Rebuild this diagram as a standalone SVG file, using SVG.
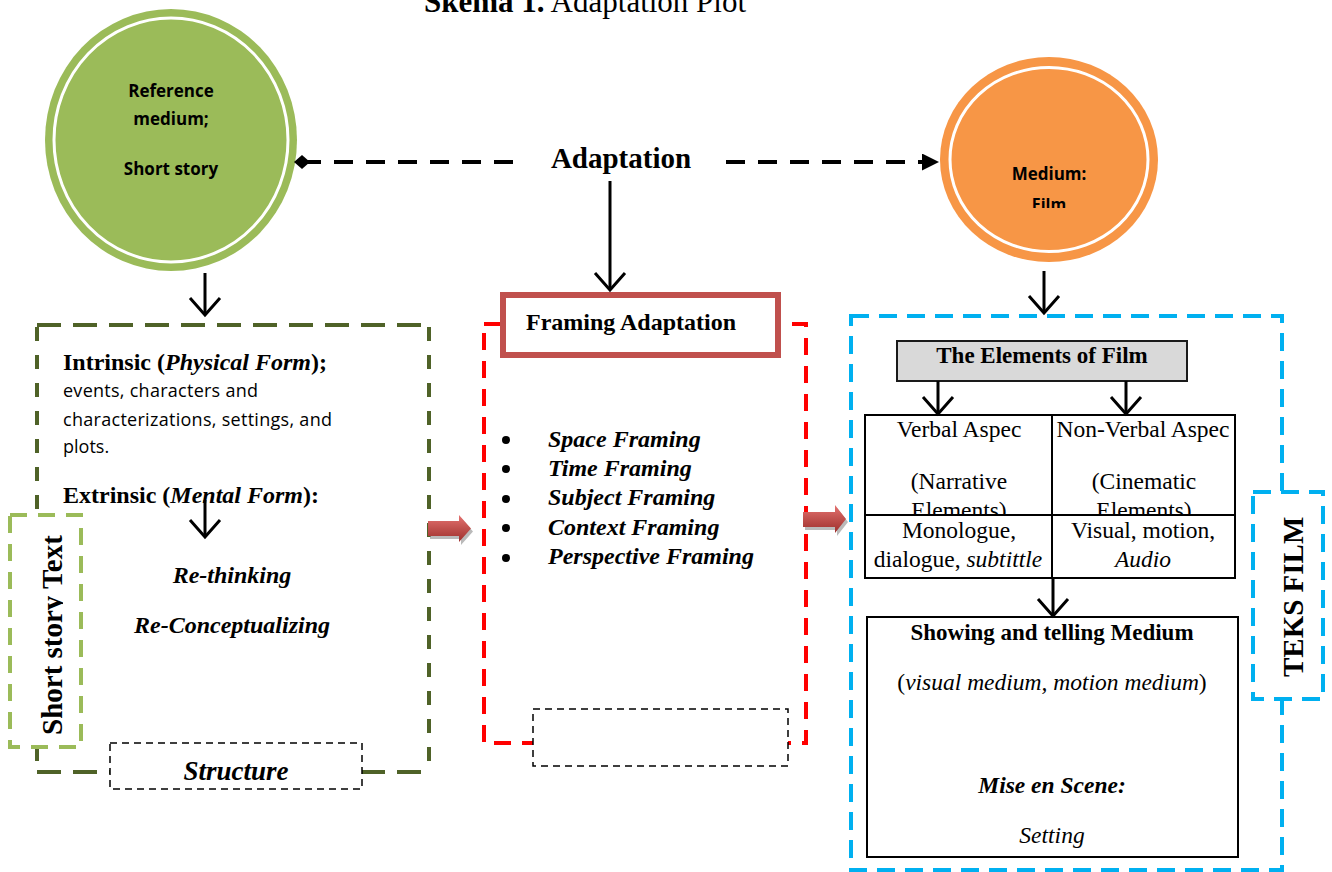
<svg xmlns="http://www.w3.org/2000/svg" width="1332" height="872" viewBox="0 0 1332 872">
<defs>
<style>
.tnr{font-family:"Liberation Serif","Times New Roman",serif;fill:#000}
.b{font-weight:bold}
.i{font-style:italic}
.n{font-style:normal}
.cal{font-family:"Open Sans","Noto Sans",sans-serif;fill:#000}
.mid{text-anchor:middle}
.ln{stroke:#000;stroke-width:3;fill:none}
.arr{marker-end:url(#vArrow)}
.olive{stroke:#4F6228;stroke-width:4;fill:none}
.bl{stroke:#00B0F0;stroke-width:4;stroke-dasharray:18 10}
.blk{stroke:#000;stroke-width:2;fill:#fff}
.thin{stroke:#000;stroke-width:1.5;stroke-dasharray:7 5;fill:#fff}
.redarrow{fill:url(#redGrad)}
.shadow{fill:#8c8c8c;opacity:0.6}
</style>
<marker id="vArrow" markerUnits="userSpaceOnUse" markerWidth="22" markerHeight="34" viewBox="0 0 22 34" refX="19" refY="17" orient="auto">
<path d="M2,2 L19,17 L2,32" fill="none" stroke="#000" stroke-width="3"/>
</marker>
<marker id="diamond" markerUnits="userSpaceOnUse" markerWidth="18" markerHeight="16" viewBox="0 0 18 16" refX="9" refY="8" orient="auto">
<path d="M1,8 L9,1 L17,8 L9,15 Z" fill="#000"/>
</marker>
<marker id="tri" markerUnits="userSpaceOnUse" markerWidth="17" markerHeight="17" viewBox="0 0 17 17" refX="0" refY="8.5" orient="auto">
<path d="M0,0 L17,8.5 L0,17 Z" fill="#000"/>
</marker>
<linearGradient id="redGrad" x1="0" y1="0" x2="0" y2="1">
<stop offset="0" stop-color="#E57371"/>
<stop offset="0.5" stop-color="#C0504D"/>
<stop offset="1" stop-color="#9E2F2C"/>
</linearGradient>
<clipPath id="clipFilm"><rect x="980" y="150" width="140" height="58"/></clipPath>
<clipPath id="clipSS"><rect x="0" y="500" width="63" height="260"/></clipPath>
<clipPath id="clipStruct"><rect x="110" y="743" width="252" height="38"/></clipPath>
<clipPath id="clipCells"><rect x="865" y="415" width="370" height="99"/></clipPath>
</defs>

<rect x="0" y="0" width="1332" height="872" fill="#fff"/>

<g id="title">
<text x="424" y="12" font-size="31" class="tnr"><tspan class="b">Skema 1.</tspan> Adaptation Plot</text>
</g>

<g id="node-reference-medium">
<ellipse cx="171" cy="140" rx="126" ry="131" fill="#9BBB59"/>
<ellipse cx="171" cy="140" rx="117" ry="122" fill="none" stroke="#fff" stroke-width="3"/>
<text x="171" y="97" font-size="17" class="cal b mid">Reference</text>
<text x="171" y="125" font-size="17" class="cal b mid">medium;</text>
<text x="171" y="175" font-size="17" class="cal b mid">Short story</text>
</g>

<g id="node-medium-film">
<ellipse cx="1049" cy="159.5" rx="109" ry="102.5" fill="#F79646"/>
<ellipse cx="1049" cy="159.5" rx="99" ry="92" fill="none" stroke="#fff" stroke-width="3"/>
<text x="1049" y="180" font-size="17" class="cal b mid">Medium:</text>
<g clip-path="url(#clipFilm)"><text x="1049" y="210" font-size="16" class="cal b mid">Film</text></g>
</g>

<g id="node-adaptation">
<text x="621" y="168" font-size="29" class="tnr b mid">Adaptation</text>
</g>

<g id="node-short-story-structure">
<line x1="37" y1="325" x2="429" y2="325" class="olive" stroke-dasharray="24 12"/>
<line x1="37" y1="772" x2="429" y2="772" class="olive" stroke-dasharray="24 12"/>
<line x1="37" y1="327" x2="37" y2="772" class="olive" stroke-dasharray="14 14"/>
<line x1="429" y1="327" x2="429" y2="772" class="olive" stroke-dasharray="14 14"/>
<text x="63" y="370" font-size="24" class="tnr b">Intrinsic (<tspan class="i">Physical Form</tspan>);</text>
<text x="63" y="397" font-size="18" class="cal" textLength="195" lengthAdjust="spacing">events, characters and</text>
<text x="63" y="426" font-size="18" class="cal" textLength="269" lengthAdjust="spacing">characterizations, settings, and</text>
<text x="63" y="453" font-size="18" class="cal">plots.</text>
<text x="63" y="503" font-size="24" class="tnr b">Extrinsic (<tspan class="i">Mental Form</tspan>):</text>
<text x="232" y="583" font-size="24" class="tnr b i mid">Re-thinking</text>
<text x="232" y="633" font-size="24" class="tnr b i mid">Re-Conceptualizing</text>
</g>

<g id="node-short-story-text">
<rect x="10" y="515" width="71" height="232" fill="#fff" stroke="#9BBB59" stroke-width="4" stroke-dasharray="17 11"/>
<g clip-path="url(#clipSS)"><text transform="translate(62,735) rotate(-90)" font-size="29" class="tnr b">Short story Text</text></g>
</g>

<g id="node-structure">
<rect x="110" y="743" width="252" height="46" class="thin" stroke-dasharray="6 4"/>
<g clip-path="url(#clipStruct)"><text x="236" y="780" font-size="27" class="tnr b i mid">Structure</text></g>
</g>

<g id="node-framing">
<rect x="484" y="324" width="322" height="419" fill="none" stroke="#FF0000" stroke-width="4" stroke-dasharray="17 11"/>
<rect x="503" y="295" width="275" height="60" fill="#fff" stroke="#C0504D" stroke-width="6"/>
<text x="526" y="330" font-size="24" class="tnr b">Framing Adaptation</text>
<g fill="#000">
<circle cx="506" cy="440" r="4"/>
<circle cx="506" cy="469" r="4"/>
<circle cx="506" cy="499" r="4"/>
<circle cx="506" cy="528" r="4"/>
<circle cx="506" cy="558" r="4"/>
</g>
<text x="548" y="447" font-size="24" class="tnr b i">Space Framing</text>
<text x="548" y="476" font-size="24" class="tnr b i">Time Framing</text>
<text x="548" y="505" font-size="24" class="tnr b i">Subject Framing</text>
<text x="548" y="535" font-size="24" class="tnr b i">Context Framing</text>
<text x="548" y="564" font-size="24" class="tnr b i">Perspective Framing</text>
</g>

<g id="node-empty-box">
<rect x="533" y="709" width="255" height="57" class="thin"/>
</g>

<g id="node-film-text">
<rect x="851" y="316" width="431" height="554" fill="none" class="bl"/>
</g>

<g id="node-teks-film">
<rect x="1253" y="492" width="70" height="207" fill="#fff" class="bl"/>
<text transform="translate(1303,677) rotate(-90)" font-size="29" class="tnr b">TEKS FILM</text>
</g>

<g id="node-elements">
<rect x="897" y="341" width="290" height="40" fill="#D9D9D9" stroke="#1a1a1a" stroke-width="2"/>
<text x="1042" y="363" font-size="23" class="tnr b mid">The Elements of Film</text>
</g>

<g id="node-aspects-table">
<rect x="865" y="415" width="370" height="163" class="blk"/>
<line x1="1052" y1="415" x2="1052" y2="578" stroke="#000" stroke-width="2"/>
<line x1="865" y1="515" x2="1235" y2="515" stroke="#000" stroke-width="2"/>
<g clip-path="url(#clipCells)">
<text x="959" y="437" font-size="23.5" class="tnr mid">Verbal Aspec</text>
<text x="959" y="489" font-size="23.5" class="tnr mid">(Narrative</text>
<text x="959" y="518" font-size="23.5" class="tnr mid">Elements)</text>
<text x="1143" y="437" font-size="23.5" class="tnr mid">Non-Verbal Aspec</text>
<text x="1144" y="489" font-size="23.5" class="tnr mid">(Cinematic</text>
<text x="1144" y="518" font-size="23.5" class="tnr mid">Elements)</text>
</g>
<text x="959" y="538" font-size="23.5" class="tnr mid">Monologue,</text>
<text x="958" y="567" font-size="23.5" class="tnr mid">dialogue, <tspan class="i">subtittle</tspan></text>
<text x="1143" y="538" font-size="23.5" class="tnr mid">Visual, motion,</text>
<text x="1143" y="567" font-size="23.5" class="tnr i mid">Audio</text>
</g>

<g id="node-showing">
<rect x="867" y="617" width="371" height="240" class="blk"/>
<text x="1052" y="640" font-size="23" class="tnr b mid">Showing and telling Medium</text>
<text x="1052" y="690" font-size="23.5" class="tnr mid">(<tspan class="i">visual medium, motion medium</tspan>)</text>
<text x="1052" y="793" font-size="23.5" class="tnr b i mid">Mise en Scene:</text>
<text x="1052" y="843" font-size="23.5" class="tnr i mid">Setting</text>
</g>

<g id="connectors">
<path d="M302,162 L517,162 M726,162 L922,162" fill="none" stroke="#000" stroke-width="4" stroke-dasharray="19 13" marker-start="url(#diamond)" marker-end="url(#tri)"/>
<line x1="610" y1="181" x2="610" y2="290" class="ln arr"/>
<line x1="205" y1="273" x2="205" y2="315" class="ln arr"/>
<line x1="1044" y1="271" x2="1044" y2="313" class="ln arr"/>
<line x1="205" y1="500" x2="205" y2="537" class="ln arr"/>
<line x1="938" y1="381" x2="938" y2="414" class="ln arr"/>
<line x1="1126" y1="381" x2="1126" y2="414" class="ln arr"/>
<line x1="1053" y1="578" x2="1053" y2="616" class="ln arr"/>
<polygon class="shadow" points="430,524 461,524 461,518 473,531.5 461,545 461,539 430,539"/>
<polygon class="redarrow" points="428,521 459,521 459,515 471,528.5 459,542 459,536 428,536"/>
<polygon class="shadow" points="805,515 837,515 837,508 848,522 837,536 837,530 805,530"/>
<polygon class="redarrow" points="803,512 835,512 835,505 846,519 835,533 835,527 803,527"/>
</g>
</svg>
